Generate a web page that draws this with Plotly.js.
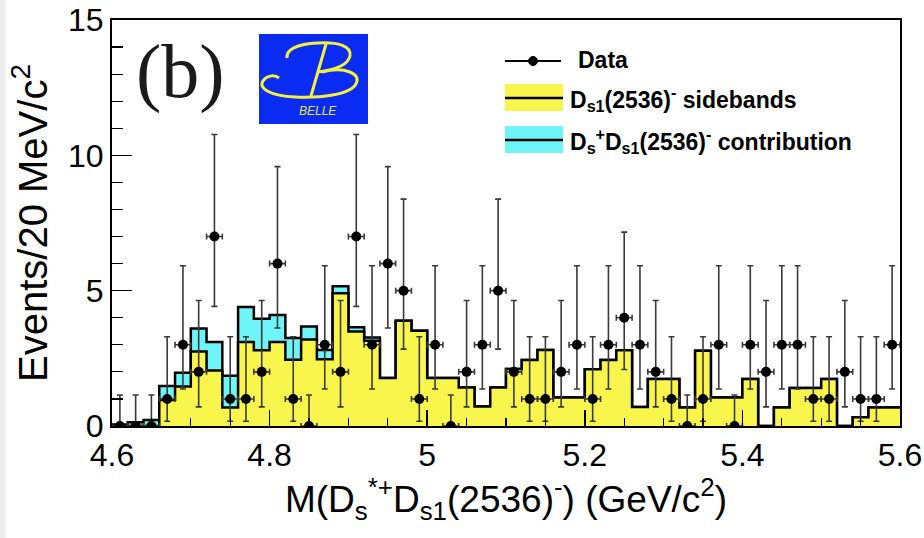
<!DOCTYPE html>
<html>
<head>
<meta charset="utf-8">
<script src="https://cdn.plot.ly/plotly-3.0.1.min.js"></script>
<style>
  html, body { margin: 0; padding: 0; background: #ffffff; }
  #chart { width: 924px; height: 538px; }
</style>
</head>
<body>
<div id="chart"></div>
<script>
// ---- data (20 MeV/c^2 bins from 4.60 to 5.60 GeV/c^2) ----
const binLow = 4.6;
const binWidth = 0.02;
const nBins = 50;

// observed events per bin
const dataCounts = [0,0,0,1,3,2,7,1,1,2, 6,1,0,3,2,7,3,6,5,1, 3,0,2,3,5,2,1,1,2,3, 1,3,4,3,2,1,0,1,3,0, 3,2,3,3,1,1,2,1,1,3];

// Ds1(2536)- sidebands (yellow)
const sidebands = [0,0,0,0.96,1.46,2.75,2.05,0.68,3.10,2.80, 3.10,2.45,3.20,2.47,4.90,3.49,3.15,1.77,3.89,3.52,
                   1.77,1.77,1.42,0.72,1.42,2.11,2.44,2.81,1.05,1.05, 2.10,2.44,2.80,0.70,1.74,1.74,0.68,2.78,1.05,1.05,
                   1.74,0,0.68,1.40,1.40,1.74,0,0.32,0.68,0.68];

// Ds+ Ds1(2536)- contribution (cyan, stacked on sidebands)
const contribution = [0.06,0.14,0.22,0.52,0.51,0.85,1.05,1.18,1.30,1.16, 1.00,0.80,0.48,0.34,0.26,0.16,0.12,0,0,0,
                      0,0,0,0,0,0,0,0,0,0, 0,0,0,0,0,0,0,0,0,0, 0,0,0,0,0,0,0,0,0,0];

// 68% Poisson interval limits, indexed by count n
const poissonLow  = [0, 0.173, 0.708, 1.367, 2.086, 2.840, 3.620, 4.419];
const poissonHigh = [1.148, 3.300, 4.638, 5.918, 7.163, 8.382, 9.584, 10.77];

// axis tick labels
const xTickVals = [4.6, 4.8, 5.0, 5.2, 5.4, 5.6];
const xTickText = ["4.6", "4.8", "5", "5.2", "5.4", "5.6"];
const yTickVals = [0, 5, 10, 15];
const yTickText = ["0", "5", "10", "15"];

// ---- derived arrays ----
const edges = [], centers = [];
for (let i = 0; i <= nBins; i++) edges.push(+(binLow + i * binWidth).toFixed(3));
for (let i = 0; i < nBins; i++) centers.push(+(binLow + (i + 0.5) * binWidth).toFixed(3));
const totalStack = sidebands.map((v, i) => +(v + contribution[i]).toFixed(3));
const stepY = arr => arr.concat([arr[arr.length - 1]]);
const errPlus = dataCounts.map(n => poissonHigh[n] - n);
const errMinus = dataCounts.map(n => n - poissonLow[n]);

// ---- pixel helpers for decorations (plot area 112..900 x 20..426) ----
const PL = 112, PR = 900, PT = 20, PB = 426;
const fx = x => (x - PL) / (PR - PL);
const fy = y => (PB - y) / (PB - PT);

function pxPath(cmds) {
  return cmds.map(c => c[0] + " " + c.slice(1).map(p => fx(p[0]).toFixed(4) + "," + fy(p[1]).toFixed(4)).join(" ")).join(" ");
}

const traces = [
  {
    x: edges, y: stepY(totalStack), type: "scatter", mode: "lines",
    line: { shape: "hv", color: "#000000", width: 2.5 },
    fill: "tozeroy", fillcolor: "#6ff4f7", showlegend: false, hoverinfo: "skip"
  },
  {
    x: edges, y: stepY(sidebands), type: "scatter", mode: "lines",
    line: { shape: "hv", color: "#000000", width: 2.5 },
    fill: "tozeroy", fillcolor: "#f8f64c", showlegend: false, hoverinfo: "skip"
  },
  {
    x: centers, y: dataCounts, type: "scatter", mode: "markers",
    marker: { color: "#000000", size: 10, symbol: "circle" },
    error_y: { type: "data", symmetric: false, array: errPlus, arrayminus: errMinus,
               color: "#3a3a3a", thickness: 1.6, width: 3 },
    error_x: { type: "constant", value: binWidth / 2, color: "#3a3a3a", thickness: 1.6, width: 3 },
    showlegend: false, hoverinfo: "skip"
  }
];

const tickFont = { family: "Liberation Sans, Arial, sans-serif", size: 32, color: "#000000" };
const legFont = { family: "Liberation Sans, Arial, sans-serif", size: 23, color: "#000000", weight: "bold" };

const shapes = [
  { type: "rect", xref: "paper", yref: "paper", x0: fx(0), x1: fx(5), y0: fy(538), y1: fy(0),
    fillcolor: "#eeeeee", line: { width: 0 }, layer: "below" },
  // Belle logo
  { type: "rect", xref: "paper", yref: "paper", x0: fx(259), x1: fx(368), y0: fy(124), y1: fy(34),
    fillcolor: "#0a2cf2", line: { width: 0 } },
  { type: "path", xref: "paper", yref: "paper", line: { color: "#f4f03c", width: 3 },
    path: pxPath([["M",[322,72]],["C",[345,66],[362,74],[356,84]],["C",[350,95],[320,98],[295,97]],
                  ["C",[270,96],[258,88],[263,81]],["C",[266,76],[274,74],[279,78]]]) },
  { type: "path", xref: "paper", yref: "paper", line: { color: "#f4f03c", width: 3 },
    path: pxPath([["M",[287,58]],["C",[286,50],[296,44],[318,43]],["C",[338,42],[352,46],[350,56]],
                  ["C",[348,65],[334,70],[318,72]]]) },
  { type: "path", xref: "paper", yref: "paper", line: { color: "#f4f03c", width: 3 },
    path: pxPath([["M",[326,44]],["L",[311,96]]]) },
  // legend: Data
  { type: "line", xref: "paper", yref: "paper", x0: fx(505), x1: fx(561), y0: fy(61), y1: fy(61),
    line: { color: "#000000", width: 2 } },
  { type: "circle", xref: "paper", yref: "paper", x0: fx(528.5), x1: fx(537.5), y0: fy(65.5), y1: fy(56.5),
    fillcolor: "#000000", line: { color: "#000000", width: 1 } },
  // legend: sidebands
  { type: "rect", xref: "paper", yref: "paper", x0: fx(505), x1: fx(563), y0: fy(111), y1: fy(84),
    fillcolor: "#f8f64c", line: { width: 0 } },
  { type: "line", xref: "paper", yref: "paper", x0: fx(505), x1: fx(563), y0: fy(98), y1: fy(98),
    line: { color: "#000000", width: 2.5 } },
  // legend: contribution
  { type: "rect", xref: "paper", yref: "paper", x0: fx(505), x1: fx(563), y0: fy(153), y1: fy(126),
    fillcolor: "#6ff4f7", line: { width: 0 } },
  { type: "line", xref: "paper", yref: "paper", x0: fx(505), x1: fx(563), y0: fy(140), y1: fy(140),
    line: { color: "#000000", width: 2.5 } }
];

const annotations = [
  { xref: "paper", yref: "paper", x: fx(180), y: fy(72), text: "(b)", showarrow: false,
    xanchor: "center", yanchor: "middle",
    font: { family: "Liberation Serif, Times New Roman, serif", size: 76, color: "#1a1a1a" } },
  { xref: "paper", yref: "paper", x: fx(318), y: fy(111), text: "<i>BELLE</i>", showarrow: false,
    xanchor: "center", yanchor: "middle",
    font: { family: "Liberation Sans, Arial, sans-serif", size: 12, color: "#e8e43a" } },
  { xref: "paper", yref: "paper", x: fx(576), y: fy(60), text: "Data", showarrow: false,
    xanchor: "left", yanchor: "middle", font: legFont },
  { xref: "paper", yref: "paper", x: fx(568), y: fy(99), text: "D<sub>s1</sub>(2536)<sup>-</sup> sidebands",
    showarrow: false, xanchor: "left", yanchor: "middle", font: legFont },
  { xref: "paper", yref: "paper", x: fx(568), y: fy(141),
    text: "D<sub>s</sub><sup>+</sup>D<sub>s1</sub>(2536)<sup>-</sup> contribution",
    showarrow: false, xanchor: "left", yanchor: "middle", font: legFont }
];

const layout = {
  width: 924, height: 538,
  margin: { l: PL, r: 924 - PR, t: PT, b: 538 - PB, pad: 0 },
  paper_bgcolor: "#ffffff", plot_bgcolor: "#ffffff",
  showlegend: false,
  xaxis: {
    range: [4.6, 5.6], autorange: false,
    tickvals: xTickVals, ticktext: xTickText,
    ticks: "inside", ticklen: 16, tickwidth: 1.5, tickcolor: "#000000",
    minor: { dtick: 0.05, tick0: 4.6, ticks: "inside", ticklen: 8, tickwidth: 1.2, tickcolor: "#000000", showgrid: false },
    showline: true, linecolor: "#000000", linewidth: 2, mirror: true,
    showgrid: false, zeroline: false,
    tickfont: tickFont, automargin: false,
    title: { text: "M(D<sub>s</sub><sup>*+</sup>D<sub>s1</sub>(2536)<sup>-</sup>) (GeV/c<sup>2</sup>)",
             font: { family: "Liberation Sans, Arial, sans-serif", size: 37, color: "#000000" }, standoff: 6 }
  },
  yaxis: {
    range: [0, 15], autorange: false,
    tickvals: yTickVals, ticktext: yTickText,
    ticks: "inside", ticklen: 20, tickwidth: 1.5, tickcolor: "#000000",
    minor: { dtick: 1, tick0: 0, ticks: "inside", ticklen: 11, tickwidth: 1.2, tickcolor: "#000000", showgrid: false },
    showline: true, linecolor: "#000000", linewidth: 2, mirror: true,
    showgrid: false, zeroline: false,
    tickfont: tickFont, automargin: false,
    title: { text: "Events/20 MeV/c<sup>2</sup>",
             font: { family: "Liberation Sans, Arial, sans-serif", size: 40, color: "#000000" }, standoff: 8 }
  },
  shapes: shapes,
  annotations: annotations
};

Plotly.newPlot("chart", traces, layout, { staticPlot: true, displayModeBar: false });
</script>
</body>
</html>
